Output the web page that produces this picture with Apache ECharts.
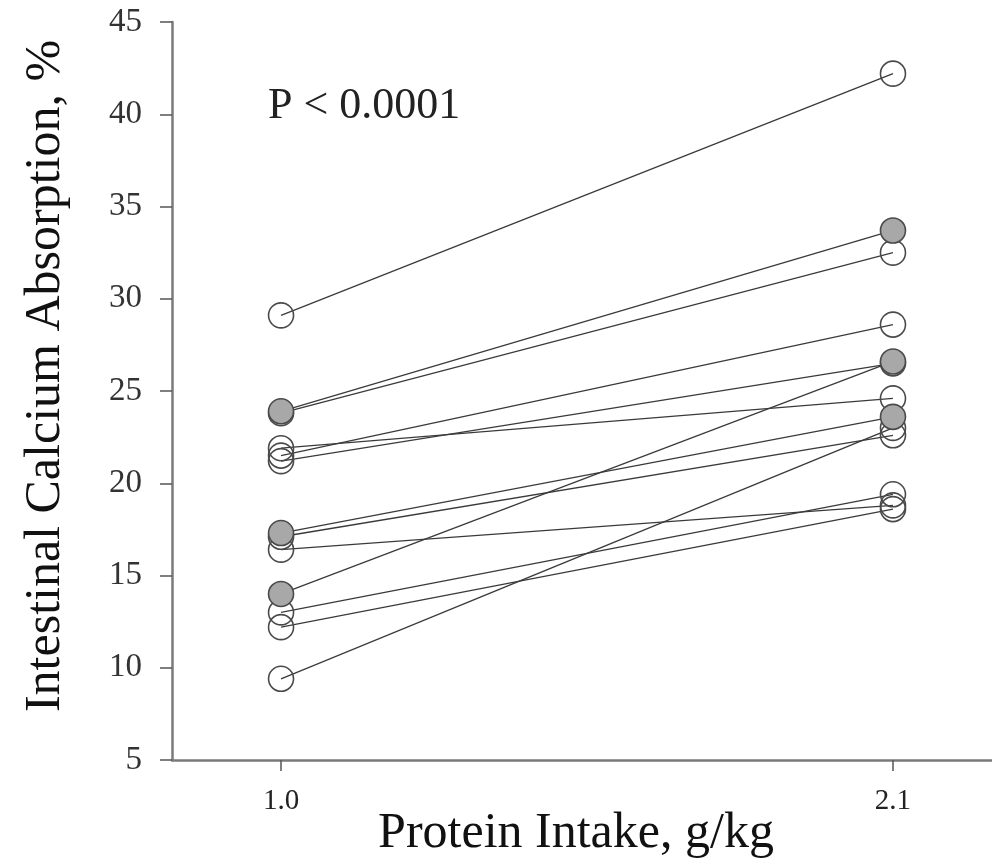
<!DOCTYPE html>
<html>
<head>
<meta charset="utf-8">
<script src="https://cdn.jsdelivr.net/npm/echarts@6/dist/echarts.min.js"></script>
<style>html,body{margin:0;padding:0;background:#fff;}#chart{width:992px;height:866px;}</style>
</head>
<body>
<div id="chart"></div>
<script>
// Protein intake levels (g/kg)
var intakeLevels = [1.0, 2.1];
var intakeLabels = ['1.0', '2.1'];
// Intestinal calcium absorption (%) per subject at each intake level
var absorptionLow  = [29.1, 23.9, 23.8, 21.5, 21.2, 21.9, 17.3, 17.1, 16.4, 14.0, 13.0, 12.2, 9.4];
var absorptionHigh = [42.2, 33.7, 32.5, 28.6, 26.5, 24.6, 23.6, 22.6, 18.8, 26.6, 19.4, 18.6, 23.0];
// 1 = filled (grey) marker subject, 0 = open marker subject
var filledMarker   = [0, 1, 0, 0, 0, 0, 1, 0, 0, 1, 0, 0, 0];
var yTicks = [5, 10, 15, 20, 25, 30, 35, 40, 45];
var yTitle = 'Intestinal Calcium Absorption, %';
var xTitle = 'Protein Intake, g/kg';
var pText = 'P < 0.0001';

var FONT = '"Liberation Serif", "DejaVu Serif", serif';
var series = [];
for (var i = 0; i < absorptionLow.length; i++) {
  var f = filledMarker[i] === 1;
  series.push({
    type: 'line',
    z: f ? 4 : 2,
    symbol: 'circle',
    symbolSize: 25,
    silent: true,
    animation: false,
    lineStyle: { color: '#3a3a3a', width: 1.3 },
    itemStyle: {
      color: f ? '#a8a8a8' : 'rgba(255,255,255,0)',
      borderColor: '#4a4a4a',
      borderWidth: 1.6
    },
    data: [[intakeLevels[0], absorptionLow[i]], [intakeLevels[1], absorptionHigh[i]]]
  });
}

var chart = echarts.init(document.getElementById('chart'));
chart.setOption({
  backgroundColor: '#fff',
  animation: false,
  grid: { left: 172, right: 0, top: 22, bottom: 106, containLabel: false, outerBoundsMode: 'none' },
  xAxis: {
    type: 'value',
    min: 0.804,
    max: 2.278,
    axisLine: { show: true, lineStyle: { color: '#7a7a7a', width: 2.5 } },
    axisTick: { show: true, customValues: intakeLevels, length: 11, inside: false, lineStyle: { color: '#555', width: 1.5 } },
    axisLabel: {
      customValues: intakeLevels,
      margin: 27,
      fontFamily: FONT, fontSize: 29, color: '#222',
      formatter: function (v) { var k = intakeLevels.indexOf(v); return k >= 0 ? intakeLabels[k] : ''; }
    },
    splitLine: { show: false }
  },
  yAxis: {
    type: 'value',
    min: 5, max: 45, interval: 5,
    axisLine: { show: true, lineStyle: { color: '#7a7a7a', width: 2.5 } },
    axisTick: { show: true, length: 12, inside: false, lineStyle: { color: '#555', width: 1.5 } },
    axisLabel: {
      margin: 30,
      fontFamily: FONT, fontSize: 33, color: '#333',
      formatter: function (v) { return yTicks.indexOf(v) >= 0 ? String(v) : ''; }
    },
    splitLine: { show: false }
  },
  graphic: [{
    type: 'text',
    left: 268, top: 84,
    style: { text: pText, font: '44px ' + FONT, fill: '#222' }
  }, {
    type: 'text',
    x: 46, y: 376,
    rotation: Math.PI / 2,
    style: { text: yTitle, font: '50px ' + FONT, fill: '#111', align: 'center', verticalAlign: 'middle' }
  }, {
    type: 'text',
    x: 576, y: 834,
    style: { text: xTitle, font: '50px ' + FONT, fill: '#111', align: 'center', verticalAlign: 'middle' }
  }],
  series: series
});
</script>
</body>
</html>
